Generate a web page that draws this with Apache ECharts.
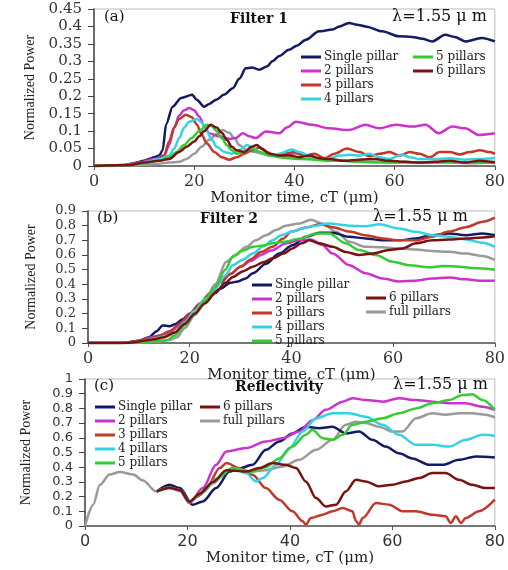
<!DOCTYPE html>
<html>
<head>
<meta charset="utf-8">
<script src="https://cdn.jsdelivr.net/npm/echarts@6/dist/echarts.min.js"></script>
<style>
  html, body { margin: 0; padding: 0; background: #fff; }
  #myChart { width: 508px; height: 570px; }
</style>
</head>
<body>
<div id="myChart"></div>
<script>
// legend names / colours
const names = ['Single pillar', '2 pillars', '3 pillars', '4 pillars', '5 pillars', '6 pillars', 'full pillars'];
const colors = ['#141a66', '#cc33cc', '#c0392b', '#33d3e3', '#33cc33', '#7a1212', '#9a9a9a'];
const xTicks = [0, 20, 40, 60, 80];

// (a) Filter 1  -- [cT, power]
const a_single = [[0,0],[4,0],[6,0.002],[8,0.008],[10,0.015],[11,0.02],[12,0.025],[13,0.03],[13.7,0.045],[14.4,0.12],[15.7,0.17],[17.4,0.195],[19.6,0.204],[20.5,0.19],[22,0.17],[23,0.178],[24.4,0.19],[26,0.205],[27.7,0.223],[29,0.25],[30.3,0.28],[31.5,0.282],[33,0.276],[34.5,0.285],[35.6,0.3],[37,0.315],[38.9,0.333],[40.5,0.345],[42.3,0.362],[44.9,0.386],[47.6,0.391],[49,0.4],[50.9,0.41],[52.5,0.405],[54.2,0.4],[57.5,0.386],[60.8,0.372],[63.5,0.37],[65.5,0.365],[67.5,0.357],[70.1,0.376],[72,0.37],[74.1,0.357],[77.4,0.367],[80,0.357]];
const a_2 = [[0,0],[6,0.002],[9,0.01],[12,0.02],[14,0.03],[15,0.06],[16,0.11],[17,0.145],[18,0.16],[19,0.166],[20,0.16],[21,0.142],[22,0.115],[23,0.094],[25,0.085],[27,0.078],[28.3,0.08],[29.7,0.094],[31,0.085],[32.3,0.08],[34.3,0.099],[37,0.094],[38.5,0.11],[40.3,0.127],[43.6,0.118],[46.9,0.108],[50.9,0.103],[54.2,0.118],[56.9,0.108],[60.2,0.118],[63.5,0.113],[66.2,0.118],[68.8,0.094],[71.5,0.113],[74.1,0.108],[76.8,0.089],[80,0.094]];
const a_3 = [[0,0],[6,0.002],[9,0.008],[12,0.015],[14,0.03],[15,0.07],[16,0.11],[17,0.135],[18.3,0.147],[19.5,0.14],[20.5,0.12],[21.5,0.09],[22.5,0.065],[24,0.04],[25.5,0.025],[27,0.018],[28.5,0.025],[30,0.035],[31.5,0.045],[33,0.052],[34.5,0.04],[36,0.03],[38,0.035],[40,0.04],[42,0.03],[44,0.035],[46,0.022],[48,0.035],[50.5,0.05],[53,0.04],[55,0.028],[57,0.035],[59,0.04],[61,0.03],[63,0.04],[65,0.035],[67,0.025],[69,0.04],[71,0.04],[73,0.033],[75,0.04],[77,0.045],[79,0.04],[80,0.035]];
const a_4 = [[0,0],[7,0.003],[10,0.01],[13,0.02],[15,0.03],[16,0.05],[17,0.08],[18,0.11],[19,0.127],[20.5,0.135],[21.5,0.125],[22.5,0.1],[23.5,0.075],[24.5,0.055],[26,0.04],[27.5,0.035],[29,0.045],[30.5,0.06],[32,0.05],[33.5,0.035],[35,0.03],[37,0.035],[39.5,0.047],[41,0.04],[43,0.03],[45,0.02],[47,0.022],[49,0.03],[51,0.032],[53,0.03],[55,0.035],[57,0.025],[59,0.02],[61.5,0.033],[63,0.025],[65,0.02],[68,0.02],[71,0.022],[74,0.018],[77,0.02],[80,0.023]];
const a_5 = [[0,0],[7,0.003],[10,0.008],[13,0.015],[15,0.025],[16.5,0.04],[18,0.06],[19.5,0.08],[21,0.1],[22.5,0.118],[23.5,0.115],[24.5,0.1],[25.5,0.08],[26.5,0.06],[27.5,0.045],[28.5,0.035],[30,0.04],[31.5,0.05],[33,0.04],[35,0.03],[37,0.025],[39,0.022],[41,0.02],[44,0.018],[47,0.015],[50,0.015],[53,0.012],[56,0.012],[59,0.01],[62,0.012],[65,0.01],[68,0.01],[71,0.012],[74,0.01],[77,0.01],[80,0.012]];
const a_6 = [[0,0],[7,0.003],[10,0.01],[13,0.015],[15,0.02],[17,0.04],[18.5,0.055],[20,0.07],[21,0.085],[22,0.1],[23.3,0.118],[24.5,0.11],[25.5,0.095],[26.5,0.075],[27.5,0.055],[28.5,0.045],[30,0.04],[31.5,0.055],[32.5,0.06],[33.5,0.05],[35,0.035],[37,0.03],[39,0.03],[41,0.025],[43,0.03],[45,0.022],[47,0.02],[50,0.015],[53,0.018],[56,0.02],[59,0.015],[62,0.012],[65,0.01],[68,0.012],[71,0.015],[74,0.01],[77,0.015],[80,0.01]];
const a_full = [[0,0],[8,0.002],[12,0.005],[15,0.01],[17,0.012],[18.5,0.02],[20,0.035],[21.5,0.055],[23,0.075],[24.5,0.092],[25.7,0.103],[27,0.095],[28,0.08],[29,0.06],[30.5,0.045],[32,0.04],[34,0.035],[36,0.03],[38,0.032],[40,0.035],[42,0.03],[44,0.02],[47,0.015],[50,0.015],[53,0.012],[56,0.01],[60,0.01],[65,0.01],[70,0.01],[75,0.008],[80,0.01]];

// (b) Filter 2
const b_single = [[0,0],[6,0],[8,0.005],[10,0.015],[12,0.04],[13.5,0.08],[14.7,0.12],[16,0.115],[17.3,0.13],[18.5,0.16],[20,0.2],[22,0.26],[24,0.32],[26,0.37],[28,0.41],[29.5,0.42],[31,0.44],[32.4,0.475],[35,0.54],[37.6,0.61],[40.2,0.667],[42.9,0.724],[45.5,0.751],[48.1,0.751],[51.4,0.724],[54.6,0.713],[57.9,0.7],[61.2,0.7],[64.5,0.713],[67.7,0.735],[71,0.747],[74.3,0.735],[77.6,0.747],[80,0.735]];
const b_2 = [[0,0],[6,0],[8,0.005],[10,0.015],[12,0.035],[14,0.05],[16,0.07],[18,0.12],[20,0.19],[22,0.26],[24,0.33],[26,0.41],[28,0.47],[30,0.52],[32,0.56],[34,0.6],[36,0.63],[39,0.68],[41.5,0.7],[43.8,0.706],[46,0.67],[48.1,0.61],[51.4,0.53],[54.6,0.475],[57.9,0.44],[61.2,0.42],[64.5,0.425],[67.7,0.44],[71,0.447],[74.3,0.434],[77,0.425],[80,0.425]];
const b_3 = [[0,0],[6,0],[8,0.005],[10,0.015],[12,0.03],[14,0.05],[16,0.08],[18,0.13],[20,0.2],[22,0.27],[24,0.34],[26,0.41],[28,0.47],[30,0.52],[32,0.57],[34,0.62],[36.3,0.656],[38.3,0.71],[40,0.76],[42.9,0.787],[45.5,0.81],[48.1,0.79],[51.4,0.76],[54.6,0.735],[57.9,0.713],[61.2,0.7],[64.5,0.7],[67.7,0.724],[71,0.76],[74.3,0.79],[77.6,0.826],[80,0.855]];
const b_4 = [[0,0],[7,0],[9,0.005],[11,0.015],[13,0.03],[15,0.045],[17,0.07],[19,0.14],[21,0.22],[23,0.3],[25,0.37],[27,0.46],[28.5,0.53],[30.5,0.57],[32.4,0.61],[34.5,0.66],[36.3,0.7],[38,0.735],[40.2,0.758],[42,0.78],[44.2,0.796],[47.4,0.815],[51.4,0.8],[54.6,0.796],[57.3,0.81],[61.2,0.78],[64.5,0.758],[67.7,0.735],[71,0.724],[74.3,0.706],[77.6,0.683],[80,0.656]];
const b_5 = [[0,0],[8,0],[10,0.005],[12,0.01],[14,0.015],[15.5,0.02],[17,0.05],[19,0.12],[21,0.2],[23,0.29],[25,0.38],[27,0.5],[28.5,0.59],[30.5,0.63],[32.4,0.656],[34.5,0.665],[36.3,0.68],[38.5,0.69],[41.6,0.71],[44.8,0.747],[47.4,0.747],[50.7,0.68],[53.3,0.634],[56.6,0.6],[59.9,0.554],[63.2,0.53],[67.1,0.516],[69.7,0.525],[73,0.52],[76.2,0.51],[80,0.5]];
const b_6 = [[0,0],[7,0],[9,0.005],[11,0.015],[13,0.025],[15,0.04],[17,0.07],[19,0.13],[21,0.2],[23,0.27],[25,0.34],[27,0.41],[28.5,0.45],[30.5,0.49],[32.4,0.52],[34.5,0.55],[36.3,0.577],[38.5,0.61],[40.2,0.645],[42,0.68],[43.5,0.7],[45.5,0.68],[48.1,0.656],[50.7,0.62],[53.3,0.6],[56,0.61],[59.2,0.634],[61.8,0.645],[64.5,0.68],[67.7,0.7],[71,0.706],[74.3,0.713],[77.6,0.72],[80,0.728]];
const b_full = [[0,0],[8,0],[11,0.005],[14,0.01],[16,0.02],[17.5,0.04],[19,0.1],[21,0.19],[23,0.29],[25,0.4],[27.2,0.554],[29,0.6],[31.1,0.656],[33,0.7],[35,0.735],[37,0.77],[38.9,0.8],[41.6,0.815],[43.8,0.84],[46.1,0.815],[48.8,0.758],[51.4,0.69],[54.6,0.656],[57.9,0.652],[61.2,0.645],[64.5,0.638],[67.7,0.627],[71,0.622],[74.3,0.61],[77.6,0.593],[80,0.566]];

// (c) Reflectivity
const c_single = [[14,0.235],[16.5,0.28],[18.5,0.258],[21,0.145],[23,0.167],[25.6,0.258],[28.2,0.37],[30,0.39],[32.7,0.416],[35.3,0.518],[37.9,0.575],[40.5,0.63],[43.1,0.676],[45.7,0.665],[48.3,0.676],[50.9,0.63],[53.5,0.643],[56.1,0.586],[58.7,0.54],[61.3,0.495],[63.9,0.46],[67.2,0.416],[69.8,0.416],[73,0.45],[76.3,0.473],[80,0.466]];
const c_2 = [[14,0.235],[16.5,0.26],[18.5,0.24],[20.4,0.156],[23,0.258],[25.6,0.416],[27.6,0.507],[31.4,0.53],[35.3,0.575],[38.6,0.597],[41.8,0.643],[44.4,0.72],[47,0.79],[50.3,0.846],[52.2,0.869],[54.8,0.857],[58.1,0.846],[61.3,0.869],[64.6,0.857],[67.8,0.846],[71.1,0.835],[74.3,0.835],[77.6,0.812],[80,0.79]];
const c_3 = [[14,0.235],[16.5,0.26],[18.5,0.245],[20.4,0.165],[22,0.2],[23.7,0.258],[26.3,0.394],[27.6,0.428],[30.1,0.394],[32.7,0.348],[35.3,0.258],[37.9,0.179],[40.5,0.1],[42.5,0.032],[43.1,0.01],[44.1,0.054],[46.4,0.077],[48.3,0.1],[50.3,0.122],[52.2,0.1],[52.9,0.032],[53.5,0.01],[54.2,0.054],[56.8,0.156],[59.4,0.145],[62,0.1],[64.6,0.1],[67.8,0.077],[70.4,0.066],[71.4,0.02],[72.4,0.066],[73.4,0.02],[74.3,0.054],[76.9,0.1],[80,0.179]];
const c_4 = [[14,0.235],[16.5,0.26],[18.5,0.245],[20.4,0.165],[23,0.23],[25.6,0.32],[28.8,0.394],[31.4,0.36],[33.4,0.303],[34.7,0.326],[37.3,0.416],[39.9,0.53],[42.5,0.643],[45.1,0.733],[48.3,0.767],[51.6,0.767],[54.8,0.744],[58.1,0.688],[61.3,0.62],[64.6,0.552],[67.8,0.552],[71.1,0.54],[74.3,0.586],[77.6,0.62],[80,0.613]];
const c_5 = [[14,0.235],[16.5,0.26],[18.5,0.245],[20.4,0.165],[23,0.23],[25.6,0.32],[28.8,0.394],[32.7,0.37],[35.3,0.4],[37.9,0.46],[40.5,0.54],[43.1,0.62],[44.4,0.654],[46.4,0.597],[48.3,0.586],[50.3,0.62],[52.2,0.688],[54.8,0.71],[58.1,0.733],[61.3,0.767],[64.6,0.8],[67.8,0.835],[71.1,0.857],[73.7,0.891],[75.6,0.896],[77.6,0.857],[80,0.79]];
const c_6 = [[14,0.235],[16.5,0.26],[18.5,0.245],[20.4,0.165],[22.4,0.22],[25,0.3],[27.6,0.38],[31.4,0.37],[34,0.394],[36.6,0.428],[39.2,0.416],[41.2,0.394],[43.1,0.303],[45.1,0.19],[47,0.133],[49,0.145],[50.9,0.235],[52.9,0.314],[54.8,0.303],[57.4,0.27],[60,0.28],[62.6,0.303],[65.2,0.326],[67.8,0.36],[70.4,0.36],[73,0.314],[75.6,0.28],[78.2,0.258],[80,0.258]];
const c_full = [[0,0],[1.6,0.145],[2.9,0.28],[4.8,0.35],[6.8,0.367],[9.4,0.35],[11.3,0.31],[13.9,0.235],[15.9,0.258],[18.5,0.247],[20.4,0.167],[22.4,0.213],[25,0.29],[27.6,0.37],[30.1,0.38],[32.7,0.37],[35.3,0.38],[38.6,0.405],[41.8,0.45],[45.1,0.518],[48.3,0.586],[50.9,0.688],[52.9,0.71],[54.8,0.7],[57.4,0.676],[60,0.643],[62,0.643],[64.6,0.733],[67.8,0.767],[70.4,0.756],[73,0.767],[75.6,0.767],[78.2,0.756],[80,0.738]];

const panelA = [a_full, a_single, a_2, a_3, a_4, a_5, a_6];
const panelB = [b_full, b_single, b_2, b_3, b_4, b_5, b_6];
const panelC = [c_full, c_single, c_2, c_3, c_4, c_5, c_6];
const order = [6, 0, 1, 2, 3, 4, 5]; // index into names/colors for each panel array

const serif = 'DejaVu Serif';
const sans = 'DejaVu Sans';

function xAxis(gi, font) {
  return {
    type: 'value', gridIndex: gi, min: 0, max: 80, interval: 20,
    name: 'Monitor time, cT (\u03bcm)', nameLocation: 'middle',
    nameGap: gi === 0 ? 24 : 20,
    nameTextStyle: { fontFamily: serif, fontSize: 15, color: '#222' },
    axisLine: { lineStyle: { color: '#555', width: 1.5 } },
    axisTick: { length: 4, lineStyle: { color: '#555' } },
    axisLabel: { fontFamily: font, fontSize: 16, color: '#333', margin: 8, interval: 0, showMinLabel: true, showMaxLabel: true },
    splitLine: { show: false }
  };
}
function yAxis(gi, max, interval, font, size, gap) {
  return {
    type: 'value', gridIndex: gi, min: 0, max: max, interval: interval,
    name: 'Normalized Power', nameLocation: 'middle', nameGap: gap,
    nameTextStyle: { fontFamily: 'Liberation Serif', fontSize: 14, color: '#222' },
    axisLine: { show: true, lineStyle: { color: '#444', width: 1.5 } },
    axisTick: { show: true, length: 6, lineStyle: { color: '#444' } },
    axisLabel: {
      fontFamily: font, fontSize: size, color: '#333', margin: 12,
      interval: 0, showMinLabel: true, showMaxLabel: true, hideOverlap: false
    },
    splitLine: { show: false }
  };
}

let series = [];
[panelA, panelB, panelC].forEach(function (panel, gi) {
  panel.forEach(function (d, k) {
    let idx = order[k];
    series.push({
      name: names[idx], type: 'line', xAxisIndex: gi, yAxisIndex: gi,
      data: d, showSymbol: false, symbol: 'none',
      smooth: 0.3, smoothMonotone: 'x',
      lineStyle: { color: colors[idx], width: 2.5 },
      itemStyle: { color: colors[idx] }
    });
  });
});

function legend(list, left, top) {
  return {
    data: list, orient: 'vertical', left: left, top: top, padding: 0,
    itemGap: 0, itemWidth: 20, itemHeight: 3, icon: 'rect',
    selectedMode: false,
    textStyle: { fontFamily: serif, fontSize: 12, color: '#222', lineHeight: 14, padding: [0, 0, 0, -2] }
  };
}

function label(text, left, top, size, bold, right) {
  let t = {
    text: text, top: top, padding: 0,
    textStyle: { fontFamily: serif, fontSize: size, fontWeight: bold ? 'bold' : 'normal', color: '#111' }
  };
  if (right !== undefined) t.right = right; else t.left = left;
  return t;
}

const option = {
  backgroundColor: '#fff',
  animation: false,
  title: [
    label('(a)', 104, 10, 15, false),
    label('Filter 1', 230, 12, 14, true),
    label('\u03bb=1.55 \u03bc m', 0, 9, 16, false, 21),
    label('(b)', 97, 211, 15, false),
    label('Filter 2', 200, 212, 14, true),
    label('\u03bb=1.55 \u03bc m', 0, 209, 16, false, 40),
    label('(c)', 94, 379, 15, false),
    label('Reflectivity', 235, 380, 14, true),
    label('\u03bb=1.55 \u03bc m', 0, 377, 16, false, 20)
  ],
  legend: [
    legend(names.slice(0, 4), 301, 50),
    legend(names.slice(4, 6), 413, 50),
    legend(names.slice(0, 5), 252, 278),
    legend(names.slice(5, 7), 366, 291),
    legend(names.slice(0, 5), 95, 400),
    legend(names.slice(5, 7), 200, 400)
  ],
  grid: [
    { left: 94, right: 11, top: 9, height: 157, show: true, borderColor: '#bbb', borderWidth: 1 },
    { left: 88, right: 12, top: 211, height: 132, show: true, borderColor: '#bbb', borderWidth: 1 },
    { left: 85, right: 12, top: 379, height: 147, show: true, borderColor: '#bbb', borderWidth: 1 }
  ],
  xAxis: [xAxis(0, serif), xAxis(1, serif), xAxis(2, sans)],
  yAxis: [
    yAxis(0, 0.45, 0.05, serif, 15, 56),
    yAxis(1, 0.9, 0.1, serif, 13, 50),
    yAxis(2, 1, 0.1, sans, 13, 52)
  ],
  series: series
};

let myChart = echarts.init(document.getElementById('myChart'));
myChart.setOption(option);
</script>
</body>
</html>
